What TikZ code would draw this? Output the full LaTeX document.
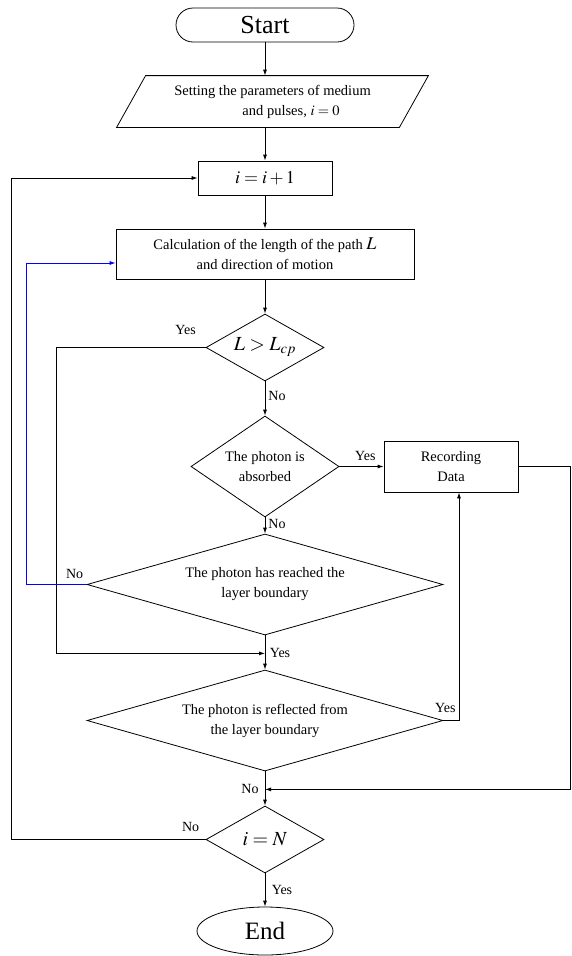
\documentclass[tikz,border=0pt]{standalone}
\usepackage{mathptmx}
\usepackage{fontspec}
\setmainfont{Liberation Serif}
\usetikzlibrary{shapes.geometric, positioning, arrows.meta}

\begin{document}
\begin{tikzpicture}
	[on grid, line width=.8pt, >={Latex[length=6pt,width=4pt]},
	 txt/.style={font=\fontsize{14.5}{20}\selectfont, align=center, inner sep=0pt},
	 process/.style={txt, draw, rectangle},
	 decision/.style={txt, draw, diamond},
	 lbl/.style={font=\fontsize{14}{16}\selectfont, inner sep=0pt}]
   \useasboundingbox (0,0) rectangle (571pt,-956pt);
   \node[process, rounded corners=17pt, minimum width=178pt, minimum height=34pt, font=\fontsize{26}{30}\selectfont] (start) at (265pt,-25pt) {Start};
   \node[txt, minimum width=253pt, minimum height=51pt] (param) [below=76.5pt of start, xshift=7.5pt] {Setting the parameters of medium\\\hspace*{37pt}and pulses, $i=0$};
   \draw (param.north west) -- ([xshift=29pt]param.north east) -- (param.south east) -- ([xshift=-29pt]param.south west) -- cycle;
   \node[process, minimum width=134pt, minimum height=34pt, font=\fontsize{18}{20}\selectfont] (inc) [below=153pt of start] {$i=i+1$};
   \node[process, minimum width=298pt, minimum height=50pt] (calc) [below=76pt of inc] {Calculation of the length of the path {\fontsize{18}{20}\selectfont$L$}\\and direction of motion};
   \node[decision, minimum width=118pt, minimum height=67pt, shape aspect=1.76, font=\fontsize{20}{22}\selectfont] (cmp) [below=93.5pt of calc] {$L>L_{cp}$};
   \node[decision, minimum width=148pt, minimum height=101pt, shape aspect=1.47] (absorbed) [below=119pt of cmp] {The photon is\\absorbed};
   \node[decision, minimum width=356pt, minimum height=101pt, shape aspect=3.52] (reached) [below=118pt of absorbed] {The photon has reached the\\layer boundary};
   \node[decision, minimum width=356pt, minimum height=101pt, shape aspect=3.52] (reflected) [below=136pt of reached] {The photon is reflected from\\the layer boundary};
   \node[decision, minimum width=118pt, minimum height=67pt, shape aspect=1.76, font=\fontsize{20}{22}\selectfont] (iN) [below=119pt of reflected] {$i=N$};
   \node[txt, draw, ellipse, minimum width=136pt, minimum height=48pt, font=\fontsize{25}{28}\selectfont] (end) [below=91.5pt of iN] {End};
   \node[process, minimum width=134pt, minimum height=51pt] (record) [right=186pt of absorbed] {Recording\\Data};

   \coordinate[below=18pt of reached.south] (j1);
   \coordinate[below=18pt of reflected.south] (j2);

   \node[lbl] (yes1) [above left=17.5pt and 20pt of cmp.west, anchor=center] {Yes};
   \node[lbl] (no1) [below right=15pt and 12pt of cmp.south, anchor=center] {No};
   \node[lbl] (yes2) [above right=10.5pt and 26pt of absorbed.east, anchor=center] {Yes};
   \node[lbl] (no2) [below right=6.5pt and 12pt of absorbed.south, anchor=center] {No};
   \node[lbl] (no3) [above left=11pt and 12pt of reached.west, anchor=center] {No};
   \node[lbl] (yes3) [right=15pt of j1, anchor=center] {Yes};
   \node[lbl] (yes4) [above right=12.5pt and 2pt of reflected.east, anchor=center] {Yes};
   \node[lbl] (no4) [left=15pt of j2, anchor=center] {No};
   \node[lbl] (no5) [above left=12.5pt and 15pt of iN.west, anchor=center] {No};
   \node[lbl] (yes5) [below right=17pt and 17pt of iN.south, anchor=center] {Yes};

   \draw[->] (start.south) -- (start.south |- param.north);
   \draw[->] (param.south -| inc) -- (inc);
   \draw[->] (inc) -- (calc);
   \draw[->] (calc) -- (cmp);
   \draw[->] (cmp) -- (absorbed);
   \draw[->] (absorbed) -- (reached);
   \draw[->] (reached) -- (reflected);
   \draw[->] (cmp.west) -- ++(-149pt,0) |- (j1);
   \draw[->] (absorbed) -- (record);
   \draw[->, blue] (reached.west) -- ++(-60pt,0) |- ([yshift=-9pt]calc.west);
   \draw[->] (reflected.east) -| ([xshift=8pt]record.south);
   \draw[->] (record.east) -- ++(52pt,0) |- (j2);
   \draw[->] (reflected) -- (iN);
   \draw[->] (iN.west) -- ++(-194pt,0) |- (inc.west);
   \draw[->] (iN) -- (end);
\end{tikzpicture}
\end{document}
